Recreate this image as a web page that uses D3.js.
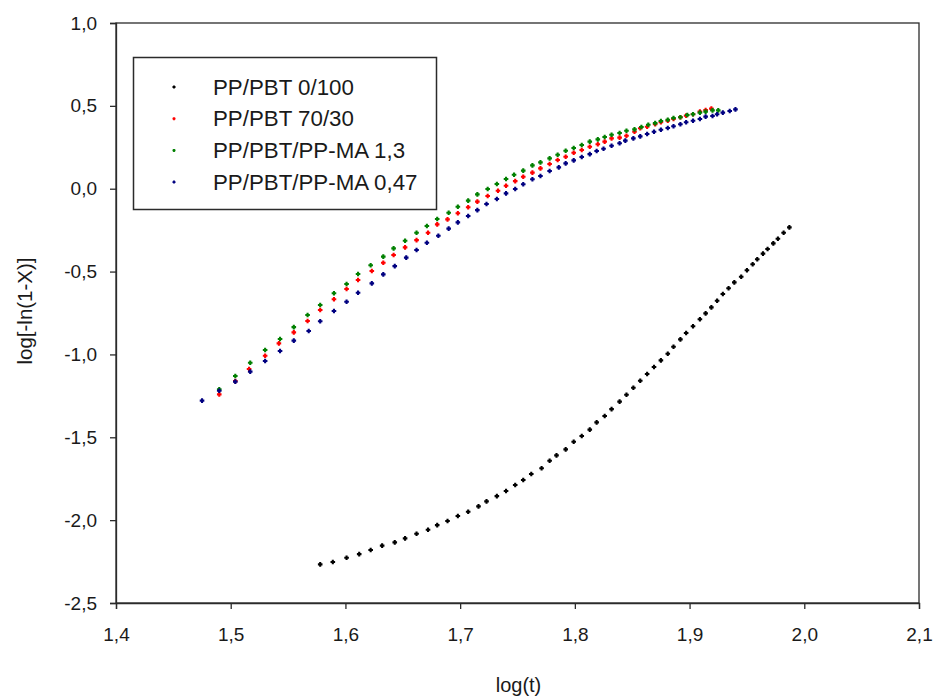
<!DOCTYPE html>
<html>
<head>
<meta charset="utf-8">
<script src="https://cdn.jsdelivr.net/npm/d3@7"></script>
<style>
  html, body { margin: 0; padding: 0; background: #fff; }
  svg { display: block; }
  text { font-family: "Liberation Sans", Arial, sans-serif; fill: #1a1a1a; }
</style>
</head>
<body>
<svg id="chart" width="939" height="697"></svg>
<script>
// Avrami plot: log[-ln(1-X)] versus log(t)
const seriesNames = ["PP/PBT 0/100", "PP/PBT 70/30", "PP/PBT/PP-MA 1,3", "PP/PBT/PP-MA 0,47"];
const seriesColors = ["#000000", "#ff0000", "#008000", "#000080"];

const xTicks = [1.4, 1.5, 1.6, 1.7, 1.8, 1.9, 2.0, 2.1];
const yTicks = [-2.5, -2.0, -1.5, -1.0, -0.5, 0.0, 0.5, 1.0];

// PP/PBT 0/100
const logT_0_100 = [1.578,1.589,1.601,1.612,1.622,1.632,1.643,1.652,1.662,1.672,1.680,1.689,1.698,1.707,1.716,1.723,1.732,1.740,1.748,1.755,1.762,1.771,1.778,1.784,1.792,1.799,1.806,1.813,1.819,1.826,1.832,1.839,1.845,1.851,1.857,1.863,1.869,1.875,1.881,1.886,1.892,1.897,1.903,1.909,1.914,1.919,1.924,1.929,1.934,1.939,1.945,1.950,1.955,1.959,1.964,1.968,1.973,1.977,1.982,1.987];
const val_0_100 = [-2.267,-2.253,-2.227,-2.205,-2.180,-2.154,-2.134,-2.110,-2.082,-2.058,-2.030,-2.005,-1.975,-1.949,-1.917,-1.887,-1.855,-1.824,-1.788,-1.758,-1.722,-1.687,-1.642,-1.609,-1.573,-1.527,-1.492,-1.454,-1.410,-1.372,-1.330,-1.285,-1.243,-1.201,-1.159,-1.118,-1.076,-1.036,-0.996,-0.954,-0.909,-0.871,-0.830,-0.788,-0.752,-0.716,-0.676,-0.635,-0.601,-0.565,-0.531,-0.492,-0.456,-0.426,-0.392,-0.364,-0.330,-0.302,-0.266,-0.233];

// PP/PBT 70/30
const logT_70_30 = [1.490,1.504,1.516,1.530,1.542,1.555,1.567,1.578,1.590,1.601,1.611,1.623,1.633,1.642,1.652,1.662,1.672,1.680,1.689,1.698,1.707,1.715,1.724,1.733,1.740,1.748,1.755,1.763,1.770,1.778,1.785,1.792,1.799,1.806,1.813,1.820,1.826,1.832,1.839,1.845,1.852,1.857,1.863,1.870,1.875,1.881,1.886,1.892,1.897,1.903,1.909,1.914,1.919];
const val_70_30 = [-1.241,-1.161,-1.088,-1.008,-0.933,-0.867,-0.798,-0.732,-0.667,-0.605,-0.551,-0.497,-0.447,-0.400,-0.354,-0.310,-0.266,-0.215,-0.185,-0.148,-0.112,-0.078,-0.044,-0.012,0.018,0.046,0.072,0.097,0.123,0.149,0.173,0.193,0.217,0.234,0.253,0.268,0.284,0.304,0.308,0.320,0.344,0.365,0.374,0.390,0.401,0.410,0.421,0.431,0.441,0.449,0.465,0.475,0.483];

// PP/PBT/PP-MA 1,3
const logT_MA13 = [1.490,1.504,1.517,1.530,1.543,1.555,1.567,1.578,1.590,1.601,1.611,1.622,1.633,1.642,1.652,1.662,1.671,1.680,1.690,1.698,1.707,1.715,1.724,1.732,1.740,1.747,1.755,1.763,1.770,1.778,1.785,1.792,1.799,1.806,1.813,1.820,1.826,1.832,1.839,1.845,1.852,1.858,1.864,1.870,1.875,1.881,1.886,1.892,1.898,1.903,1.909,1.914,1.920,1.925];
const val_MA13 = [-1.211,-1.130,-1.050,-0.973,-0.907,-0.835,-0.762,-0.702,-0.631,-0.575,-0.515,-0.462,-0.410,-0.360,-0.314,-0.266,-0.225,-0.183,-0.145,-0.109,-0.072,-0.034,-0.002,0.028,0.059,0.084,0.109,0.141,0.159,0.183,0.205,0.229,0.246,0.264,0.284,0.298,0.312,0.326,0.336,0.350,0.358,0.372,0.386,0.396,0.409,0.416,0.427,0.431,0.445,0.449,0.459,0.465,0.473,0.473];

// PP/PBT/PP-MA 0,47
const logT_MA047 = [1.475,1.490,1.504,1.517,1.530,1.543,1.555,1.568,1.578,1.590,1.601,1.611,1.623,1.633,1.643,1.653,1.662,1.671,1.681,1.690,1.698,1.707,1.715,1.723,1.732,1.740,1.748,1.755,1.763,1.770,1.778,1.786,1.792,1.799,1.806,1.813,1.819,1.825,1.832,1.839,1.844,1.851,1.857,1.863,1.869,1.875,1.881,1.886,1.892,1.897,1.903,1.909,1.914,1.920,1.924,1.929,1.935,1.940];
const val_MA047 = [-1.279,-1.219,-1.164,-1.104,-1.040,-0.979,-0.917,-0.859,-0.800,-0.738,-0.682,-0.628,-0.571,-0.517,-0.467,-0.416,-0.370,-0.326,-0.284,-0.241,-0.203,-0.165,-0.129,-0.092,-0.062,-0.028,-0.002,0.027,0.057,0.077,0.107,0.129,0.153,0.171,0.191,0.209,0.228,0.241,0.259,0.274,0.290,0.304,0.316,0.330,0.344,0.356,0.366,0.377,0.389,0.401,0.410,0.421,0.435,0.439,0.449,0.459,0.469,0.479];

const seriesX = [logT_0_100, logT_70_30, logT_MA13, logT_MA047];
const seriesY = [val_0_100, val_70_30, val_MA13, val_MA047];

const W = 939, H = 697;
const margin = { top: 23, right: 20, bottom: 94, left: 116 };
const iw = W - margin.left - margin.right;
const ih = H - margin.top - margin.bottom;

const locale = d3.formatLocale({ decimal: ",", thousands: ".", grouping: [3], currency: ["", ""], minus: "-" });
const fmt = locale.format(".1f");

const x = d3.scaleLinear().domain([1.4, 2.1]).range([0, iw]);
const y = d3.scaleLinear().domain([-2.5, 1.0]).range([ih, 0]);

const svg = d3.select("#chart");
const g = svg.append("g").attr("transform", `translate(${margin.left},${margin.top})`);

// frame
g.append("rect").attr("x", 0).attr("y", 0).attr("width", iw).attr("height", ih)
  .attr("fill", "none").attr("stroke", "#2b2b2b").attr("stroke-width", 1.3);

const xAxis = g.append("g").attr("transform", `translate(0,${ih})`)
  .call(d3.axisBottom(x).tickValues(xTicks).tickFormat(fmt).tickSize(6).tickPadding(19));
const yAxis = g.append("g")
  .call(d3.axisLeft(y).tickValues(yTicks).tickFormat(fmt).tickSize(6).tickPadding(13));

[xAxis, yAxis].forEach(a => {
  a.select(".domain").attr("stroke", "#2b2b2b").attr("stroke-width", 1.3);
  a.selectAll(".tick line").attr("stroke", "#2b2b2b").attr("stroke-width", 1.3);
  a.selectAll(".tick text").attr("font-size", 19).attr("font-family", "Liberation Sans, Arial, sans-serif").attr("fill", "#1a1a1a");
});

// axis titles
svg.append("text").attr("x", margin.left + iw / 2 + 1).attr("y", 692)
  .attr("text-anchor", "middle").attr("font-size", 20).text("log(t)");
svg.append("text").attr("transform", `translate(32,${margin.top + ih / 2 - 2}) rotate(-90)`)
  .attr("text-anchor", "middle").attr("font-size", 20.5).text("log[-ln(1-X)]");

// point marker: small plus
const plus = "M-2.3,0H2.3M0,-2.3V2.3";

const plot = g.append("g");
seriesNames.forEach((name, s) => {
  const pts = seriesX[s].map((v, i) => [v, seriesY[s][i]]);
  plot.append("g").selectAll("path").data(pts).join("path")
    .attr("transform", d => `translate(${x(d[0])},${y(d[1])})`)
    .attr("d", plus)
    .attr("stroke", seriesColors[s])
    .attr("stroke-width", 2.1)
    .attr("fill", "none");
});

// legend
const lg = svg.append("g");
lg.append("rect").attr("x", 133.5).attr("y", 57.5).attr("width", 303).attr("height", 152)
  .attr("fill", "#fff").attr("stroke", "#2b2b2b").attr("stroke-width", 1.5);
seriesNames.forEach((name, s) => {
  const cy = 87 + s * 31.7;
  lg.append("path").attr("transform", `translate(174,${cy})`).attr("d", "M-1.5,0H1.5M0,-1.5V1.5")
    .attr("stroke", seriesColors[s]).attr("stroke-width", 1.8);
  lg.append("text").attr("x", 213).attr("y", cy + 7.5).attr("font-size", 22.3).text(name);
});
</script>
</body>
</html>
